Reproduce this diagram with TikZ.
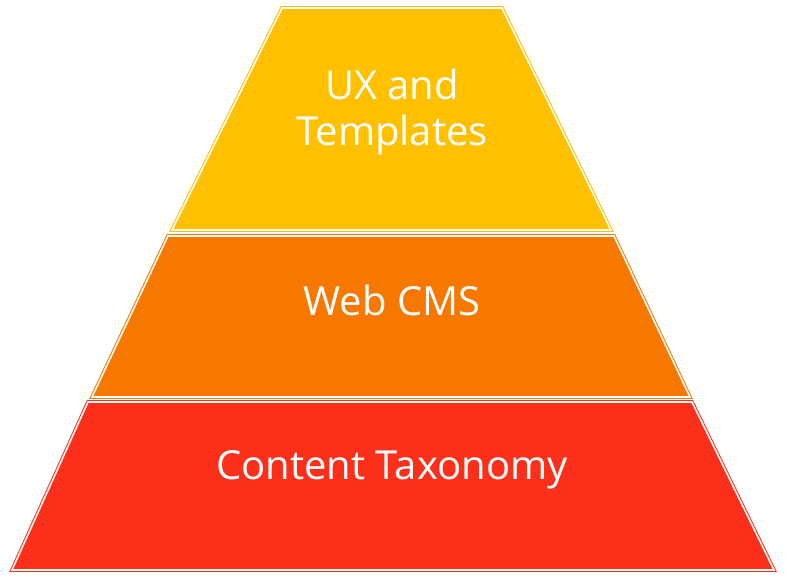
\documentclass[tikz,border=0pt]{standalone}
\usepackage{fontspec}
\setmainfont{Open Sans}
\usetikzlibrary{positioning}
\definecolor{ux}{HTML}{FFC000}
\definecolor{cms}{HTML}{F77800}
\definecolor{tax}{HTML}{FC301A}
\begin{document}
\begin{tikzpicture}[
  x=1pt,y=-1pt,
  tier/.style={
    fill=#1,
    draw=#1,
    line width=1pt,
    double=white,
    double distance=1.6pt},
  lbl/.style={
    text=white,
    align=center,
    font=\fontsize{40}{46}\selectfont},
]
  \useasboundingbox (0,0) rectangle (788,582);

  % Tiers, top to bottom
  \draw[tier=ux]  (282,8)   -- (502,8)   -- (611,230) -- (172,230) -- cycle;
  \draw[tier=cms] (168,236) -- (614,236) -- (690,397) -- (92,397)  -- cycle;
  \draw[tier=tax] (88,402)  -- (692,402) -- (774,570) -- (12,570)  -- cycle;

  % Labels
  \node[lbl] (ux_lbl)  at (392,112) {UX and\\Templates};
  \node[lbl] (cms_lbl) at (392,300) {Web CMS};
  \node[lbl] (tax_lbl) at (392,470) {Content Taxonomy};
\end{tikzpicture}
\end{document}
